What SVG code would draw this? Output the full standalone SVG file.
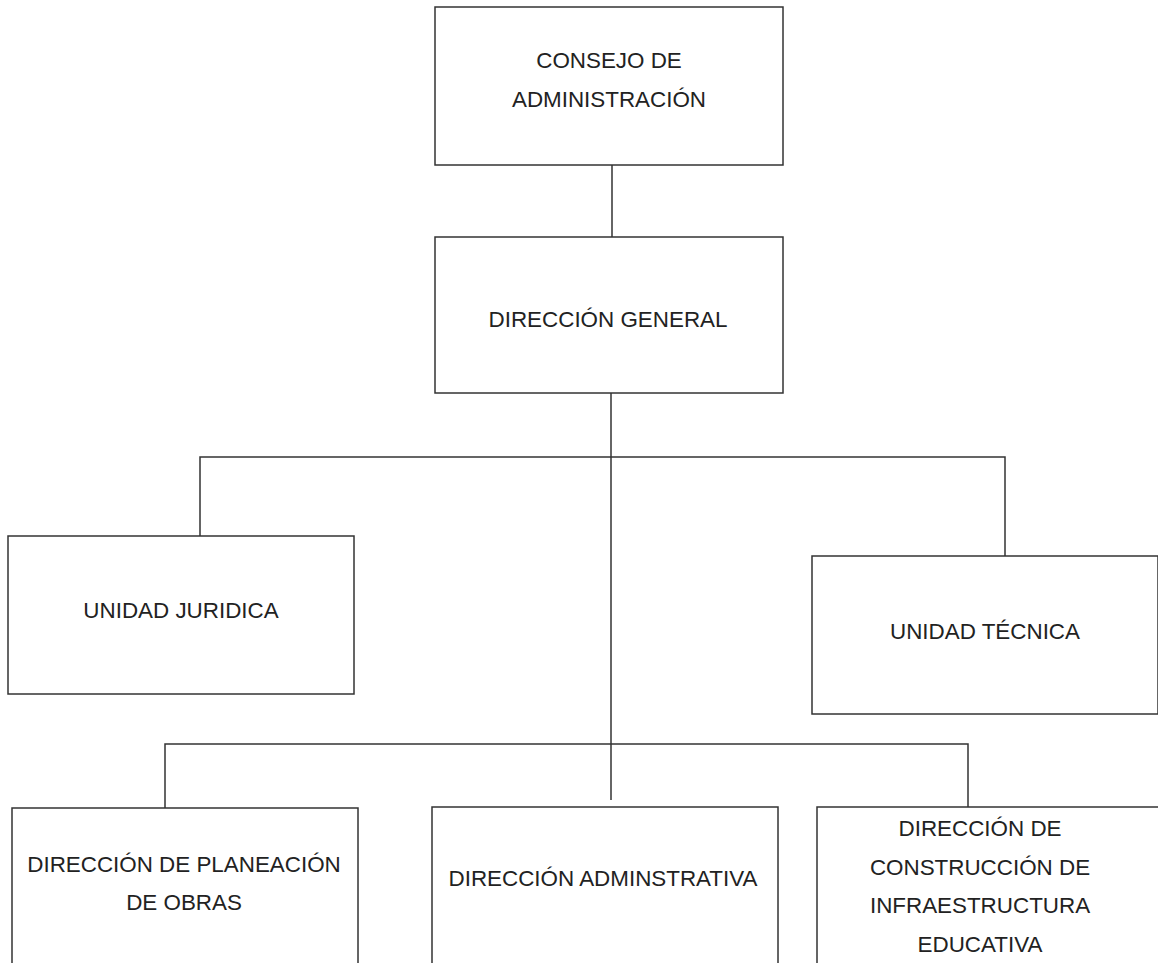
<svg xmlns="http://www.w3.org/2000/svg" width="1158" height="963" viewBox="0 0 1158 963">
<style>
.box{fill:#ffffff;stroke:#333333;stroke-width:1.5}
.ln{fill:none;stroke:#333333;stroke-width:1.5}
text{font-family:"Liberation Sans",Arial,sans-serif;font-size:22.4px;fill:#222222;text-anchor:middle}
</style>
<rect width="1158" height="963" fill="#ffffff"/>
<g id="connectors">
<line class="ln" x1="612" y1="165" x2="612" y2="237"/>
<line class="ln" x1="611" y1="393" x2="611" y2="800"/>
<polyline class="ln" points="200,536 200,457 1005,457 1005,556"/>
<polyline class="ln" points="165,808 165,744 968,744 968,807"/>
</g>
<g id="consejo">
<rect class="box" x="435" y="7" width="348" height="158"/>
<text x="609" y="68">CONSEJO DE</text>
<text x="609" y="107">ADMINISTRACIÓN</text>
</g>
<g id="direccion-general">
<rect class="box" x="435" y="237" width="348" height="156"/>
<text x="608" y="327">DIRECCIÓN GENERAL</text>
</g>
<g id="unidad-juridica">
<rect class="box" x="8" y="536" width="346" height="158"/>
<text x="181" y="618">UNIDAD JURIDICA</text>
</g>
<g id="unidad-tecnica">
<rect class="box" x="812" y="556" width="346" height="158"/>
<text x="985" y="639">UNIDAD TÉCNICA</text>
</g>
<g id="planeacion">
<rect class="box" x="12" y="808" width="346" height="170"/>
<text x="184" y="872">DIRECCIÓN DE PLANEACIÓN</text>
<text x="184" y="910">DE OBRAS</text>
</g>
<g id="administrativa">
<rect class="box" x="432" y="807" width="346" height="170"/>
<text x="603" y="886">DIRECCIÓN ADMINSTRATIVA</text>
</g>
<g id="construccion">
<rect class="box" x="817" y="807" width="346" height="170"/>
<text x="980" y="836">DIRECCIÓN DE</text>
<text x="980" y="875">CONSTRUCCIÓN DE</text>
<text x="980" y="913">INFRAESTRUCTURA</text>
<text x="980" y="952">EDUCATIVA</text>
</g>
</svg>
